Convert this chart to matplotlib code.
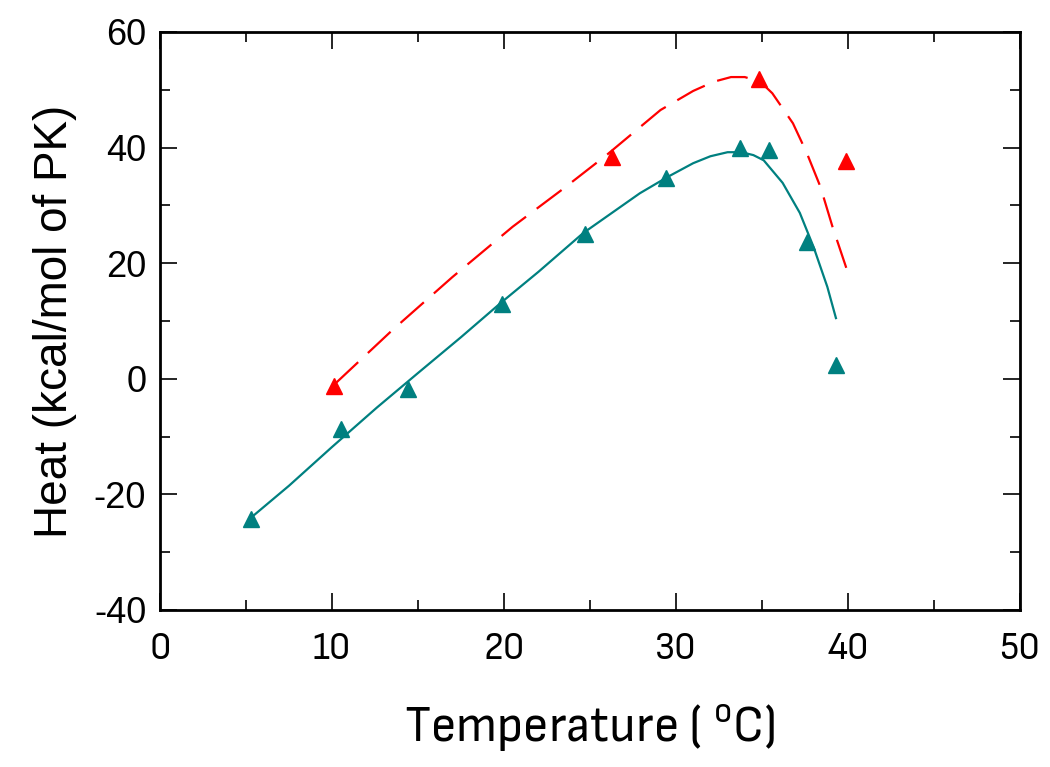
import matplotlib
matplotlib.use("Agg")
import matplotlib.pyplot as plt
from matplotlib import font_manager
from matplotlib.ticker import MultipleLocator

# measured points
teal_x = [5.3, 10.5, 14.4, 19.9, 24.7, 29.4, 33.7, 35.4, 37.6, 39.3]
teal_y = [-24.2, -8.7, -1.7, 13.0, 25.0, 34.7, 39.9, 39.6, 23.7, 2.4]
red_x = [10.1, 26.3, 34.8, 39.9]
red_y = [-1.2, 38.4, 51.8, 37.6]

# fitted curves
teal_fit_x = [5.3, 7.5, 10.0, 12.6, 15.0, 17.5, 19.8, 22.0, 24.6, 27.9, 29.5,
              31.0, 32.0, 33.0, 33.8, 34.5, 35.1, 36.2, 37.2, 38.0, 38.8, 39.3]
teal_fit_y = [-24.0, -18.5, -11.8, -5.0, 1.0, 7.2, 13.1, 18.5, 25.2, 32.1, 34.9,
              37.3, 38.5, 39.2, 39.2, 38.7, 37.8, 33.9, 28.7, 22.8, 15.9, 10.5]
red_fit_x = [10.2, 13.5, 17.0, 20.5, 23.5, 26.0, 29.1, 31.0, 32.2, 33.2, 34.0,
             34.9, 35.6, 36.8, 37.6, 38.4, 39.1, 39.9]
red_fit_y = [-0.8, 8.4, 17.6, 26.3, 33.0, 38.8, 46.5, 49.8, 51.4, 52.2, 52.2,
             51.4, 49.4, 44.2, 39.1, 33.2, 26.3, 19.2]

TEAL = "#008080"
RED = "#ff0000"

plt.rcParams['font.family'] = ['Liberation Sans', 'DejaVu Sans']
plt.rcParams['axes.unicode_minus'] = False

# look for a narrow sans (not serif, not mono) for the x axis texts
narrow_file = None
for f in font_manager.fontManager.ttflist:
    n = f.name
    if 'Serif' in n or 'Mono' in n or f.style != 'normal' or f.weight not in (400, 'normal'):
        continue
    if 'Narrow' in n or ('Sans' in n and (f.stretch in ('condensed', 'semi-condensed') or 'ondensed' in n)):
        narrow_file = f.fname
        if 'Liberation' in n:
            break

def xfont(size):
    if narrow_file:
        return font_manager.FontProperties(fname=narrow_file, size=size)
    return font_manager.FontProperties(family='Liberation Sans', size=size)

fig = plt.figure(figsize=(10.5, 7.67), dpi=100)
ax = fig.add_axes([0.1524, 0.2047, 0.819, 0.7536])

ax.plot(teal_fit_x, teal_fit_y, color=TEAL, lw=1.6)
ax.plot(red_fit_x, red_fit_y, color=RED, lw=1.6, dashes=(14, 6))
ax.plot(teal_x, teal_y, '^', color=TEAL, ms=11, mec=TEAL)
ax.plot(red_x, red_y, '^', color=RED, ms=11, mec=RED)

ax.set_xlim(0, 50)
ax.set_ylim(-40, 60)
ax.xaxis.set_major_locator(MultipleLocator(10))
ax.xaxis.set_minor_locator(MultipleLocator(5))
ax.yaxis.set_major_locator(MultipleLocator(20))
ax.yaxis.set_minor_locator(MultipleLocator(10))
ax.tick_params(which='both', direction='in', top=True, right=True, width=1.2)
ax.tick_params(which='major', length=12, pad=10)
ax.tick_params(which='minor', length=7)
for s in ax.spines.values():
    s.set_linewidth(2)

for lab in ax.get_yticklabels():
    lab.set_fontsize(26)
for lab in ax.get_xticklabels():
    lab.set_fontproperties(xfont(28 if narrow_file else 25))
ax.tick_params(axis='x', pad=16)

ax.set_ylabel('Heat (kcal/mol of PK)', fontsize=33, labelpad=12)
ax.set_xlabel('Temperature ( $^{\\mathregular{o}}$C)',
              fontproperties=xfont(37 if narrow_file else 33), labelpad=26)

fig.savefig('out.png', dpi=100)
